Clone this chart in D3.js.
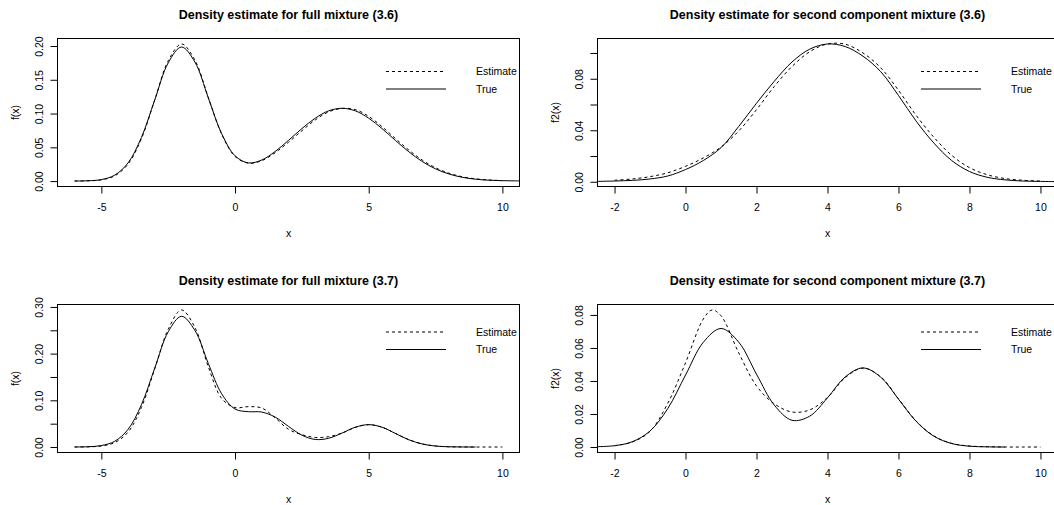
<!DOCTYPE html>
<html>
<head>
<meta charset="utf-8">
<script src="https://cdn.jsdelivr.net/npm/d3@7"></script>
<style>
	body { margin: 0; background: #fff; }
	svg { display: block; font-family: "Liberation Sans", Arial, sans-serif; }
</style>
</head>
<body>
<svg id="chart" width="1054" height="505"></svg>
<script>
//-- data --//

// full mixture (3.6)
const xTrueFull36 = [-6, -5.5, -5, -4.5, -4, -3.5, -3, -2.5, -2, -1.5, -1, -0.5, 0, 0.5, 1, 1.5, 2, 2.5, 3, 3.5, 4, 4.5, 5, 5.5, 6, 6.5, 7, 7.5, 8, 8.5, 9, 9.5, 10, 10.5, 11];
const trueFull36 = [0.0001, 0.0005, 0.0022, 0.0088, 0.0270, 0.0647, 0.1205, 0.1750, 0.1985, 0.1762, 0.1232, 0.0702, 0.0375, 0.0269, 0.0312, 0.0438, 0.0603, 0.0777, 0.0931, 0.1040, 0.1078, 0.1040, 0.0931, 0.0777, 0.0602, 0.0434, 0.0290, 0.0181, 0.0105, 0.0056, 0.0028, 0.0013, 0.0006, 0.0003, 0.0001];
const xEstFull36 = [-6, -5.5, -5, -4.5, -4, -3.5, -3, -2.5, -2, -1.5, -1, -0.5, 0, 0.5, 1, 1.5, 2, 2.5, 3, 3.5, 4, 4.5, 5, 5.5, 6, 6.5, 7, 7.5, 8, 8.5, 9, 9.5, 10];
const estFull36 = [0.0001, 0.0004, 0.0018, 0.0078, 0.0252, 0.0630, 0.1205, 0.1780, 0.2030, 0.1790, 0.1240, 0.0695, 0.0365, 0.0265, 0.0302, 0.0420, 0.0575, 0.0745, 0.0905, 0.1025, 0.1075, 0.1058, 0.0958, 0.0805, 0.0630, 0.0460, 0.0312, 0.0197, 0.0117, 0.0064, 0.0033, 0.0016, 0.0007];

// second component (3.6)
const xTrueComp36 = [-2.5, -2, -1.5, -1, -0.5, 0, 0.5, 1, 1.5, 2, 2.5, 3, 3.5, 4, 4.5, 5, 5.5, 6, 6.5, 7, 7.5, 8, 8.5, 9, 9.5, 10, 10.5];
const trueComp36 = [0.0003, 0.0006, 0.0011, 0.0022, 0.0045, 0.0095, 0.0165, 0.0265, 0.0430, 0.0610, 0.0780, 0.0930, 0.1030, 0.1070, 0.1050, 0.0975, 0.0855, 0.0670, 0.0470, 0.0300, 0.0165, 0.0080, 0.0035, 0.0015, 0.0006, 0.0003, 0.0001];
const xEstComp36 = [-2, -1.5, -1, -0.5, 0, 0.5, 1, 1.5, 2, 2.5, 3, 3.5, 4, 4.5, 5, 5.5, 6, 6.5, 7, 7.5, 8, 8.5, 9, 9.5, 10];
const estComp36 = [0.0012, 0.0022, 0.0040, 0.0070, 0.0120, 0.0185, 0.0270, 0.0395, 0.0560, 0.0740, 0.0895, 0.1010, 0.1070, 0.1068, 0.1000, 0.0885, 0.0710, 0.0515, 0.0345, 0.0205, 0.0110, 0.0055, 0.0025, 0.0012, 0.0006];

// full mixture (3.7)
const xTrueFull37 = [-6, -5.5, -5, -4.5, -4, -3.5, -3, -2.5, -2, -1.5, -1, -0.5, 0, 0.5, 1, 1.5, 2, 2.5, 3, 3.5, 4, 4.5, 5, 5.5, 6, 6.5, 7, 7.5, 8, 8.5, 9];
const trueFull37 = [0.0001, 0.0006, 0.0031, 0.0123, 0.0378, 0.0907, 0.1694, 0.2467, 0.2800, 0.2497, 0.1791, 0.1140, 0.0814, 0.0757, 0.0749, 0.0641, 0.0442, 0.0254, 0.0162, 0.0187, 0.0298, 0.0425, 0.0479, 0.0423, 0.0290, 0.0155, 0.0065, 0.0021, 0.0005, 0.0001, 0.0000];
const xEstFull37 = [-6, -5.5, -5, -4.5, -4, -3.5, -3, -2.5, -2, -1.5, -1, -0.5, 0, 0.5, 1, 1.5, 2, 2.5, 3, 3.5, 4, 4.5, 5, 5.5, 6, 6.5, 7, 7.5, 8, 8.5, 9, 9.5, 10];
const estFull37 = [0.0001, 0.0004, 0.0022, 0.0095, 0.0320, 0.0850, 0.1680, 0.2520, 0.2935, 0.2560, 0.1720, 0.1040, 0.0845, 0.0865, 0.0835, 0.0625, 0.0380, 0.0265, 0.0205, 0.0222, 0.0298, 0.0420, 0.0478, 0.0425, 0.0292, 0.0157, 0.0067, 0.0022, 0.0006, 0.0002, 0.0000, 0.0000, 0.0000];

// second component (3.7)
const xTrueComp37 = [-2.5, -2, -1.5, -1, -0.5, 0, 0.5, 1, 1.5, 2, 2.5, 3, 3.5, 4, 4.5, 5, 5.5, 6, 6.5, 7, 7.5, 8, 8.5, 9];
const trueComp37 = [0.0002, 0.0008, 0.0032, 0.0097, 0.0233, 0.0436, 0.0634, 0.0718, 0.0635, 0.0441, 0.0254, 0.0162, 0.0187, 0.0298, 0.0425, 0.0479, 0.0423, 0.0290, 0.0155, 0.0065, 0.0021, 0.0005, 0.0001, 0.0000];
const xEstComp37 = [-2, -1.5, -1, -0.5, 0, 0.5, 0.75, 1, 1.5, 2, 2.5, 3, 3.5, 4, 4.5, 5, 5.5, 6, 6.5, 7, 7.5, 8, 8.5, 9, 9.5, 10];
const estComp37 = [0.0008, 0.0030, 0.0095, 0.0265, 0.0510, 0.0775, 0.0830, 0.0795, 0.0570, 0.0370, 0.0262, 0.0212, 0.0225, 0.0300, 0.0420, 0.0478, 0.0425, 0.0292, 0.0157, 0.0067, 0.0022, 0.0006, 0.0002, 0.0000, 0.0000, 0.0000];

// ticks
const xTicksFull = [-5, 0, 5, 10];
const xTicksComp = [-2, 0, 2, 4, 6, 8, 10];
const yTicksFull36 = [0, 0.05, 0.10, 0.15, 0.20];
const yLabelsFull36 = ['0.00', '0.05', '0.10', '0.15', '0.20'];
const yTicksComp36 = [0, 0.02, 0.04, 0.06, 0.08, 0.10];
const yLabelsComp36 = ['0.00', '', '0.04', '', '0.08', ''];
const yTicksFull37 = [0, 0.05, 0.10, 0.15, 0.20, 0.25, 0.30];
const yLabelsFull37 = ['0.00', '', '0.10', '', '0.20', '', '0.30'];
const yTicksComp37 = [0, 0.02, 0.04, 0.06, 0.08];
const yLabelsComp37 = ['0.00', '0.02', '0.04', '0.06', '0.08'];

const titles = [
	'Density estimate for full mixture (3.6)',
	'Density estimate for second component mixture (3.6)',
	'Density estimate for full mixture (3.7)',
	'Density estimate for second component mixture (3.7)'
];
const yTitles = ['f(x)', 'f2(x)', 'f(x)', 'f2(x)'];
const legendLabels = ['Estimate', 'True'];

//-- layout --//

const panels = [
	{ box: [57.5, 38.5, 519.5, 186.5], legendY: [33, 50.5], xEst: xEstFull36, est: estFull36, xTrue: xTrueFull36, tru: trueFull36, xTicks: xTicksFull, yTicks: yTicksFull36, yLabels: yLabelsFull36 },
	{ box: [597.5, 38.5, 1057.5, 186.5], legendY: [33, 50.5], xEst: xEstComp36, est: estComp36, xTrue: xTrueComp36, tru: trueComp36, xTicks: xTicksComp, yTicks: yTicksComp36, yLabels: yLabelsComp36 },
	{ box: [57.5, 304.5, 519.5, 452.5], legendY: [27.5, 45], xEst: xEstFull37, est: estFull37, xTrue: xTrueFull37, tru: trueFull37, xTicks: xTicksFull, yTicks: yTicksFull37, yLabels: yLabelsFull37 },
	{ box: [597.5, 304.5, 1057.5, 452.5], legendY: [27.5, 45], xEst: xEstComp37, est: estComp37, xTrue: xTrueComp37, tru: trueComp37, xTicks: xTicksComp, yTicks: yTicksComp37, yLabels: yLabelsComp37 }
];

const svg = d3.select('#chart');

panels.forEach(drawPanel);

//-- functions --//

// R style range: data extent widened by 4% on each side
function padded(values) {
	const ext = d3.extent(values);
	const pad = (ext[1] - ext[0]) * 0.04;
	return [ext[0] - pad, ext[1] + pad];
}

function drawPanel(p, i) {
	const [left, top, right, bottom] = p.box;
	const g = svg.append('g');

	let x = d3.scaleLinear()
		.domain(padded(p.xEst))
		.range([left, right]);
	let y = d3.scaleLinear()
		.domain(padded(p.est))
		.range([bottom, top]);

	// clip the curves to the plot box
	g.append('clipPath')
		.attr('id', 'clip' + i)
		.append('rect')
		.attr('x', left)
		.attr('y', top)
		.attr('width', right - left)
		.attr('height', bottom - top);

	let line = d3.line()
		.x(d => x(d[0]))
		.y(d => y(d[1]))
		.curve(d3.curveCatmullRom.alpha(0.5));

	let curves = g.append('g').attr('clip-path', 'url(#clip' + i + ')');

	curves.append('path')
		.attr('d', line(d3.zip(p.xEst, p.est)))
		.attr('fill', 'none')
		.attr('stroke', '#000')
		.attr('stroke-width', 1)
		.attr('stroke-dasharray', '3,3');

	curves.append('path')
		.attr('d', line(d3.zip(p.xTrue, p.tru)))
		.attr('fill', 'none')
		.attr('stroke', '#000')
		.attr('stroke-width', 1);

	// x axis
	let xAxis = g.append('g')
		.attr('transform', 'translate(0,' + bottom + ')')
		.call(d3.axisBottom(x).tickValues(p.xTicks).tickSize(7).tickPadding(10).tickFormat(d3.format('d')));
	xAxis.select('.domain').remove();
	xAxis.selectAll('text')
		.attr('font-size', 10.5)
		.attr('font-family', '"Liberation Sans", Arial, sans-serif')
		.attr('fill', '#000')
		.text(d => d < 0 ? '-' + Math.abs(d) : d);

	// y axis, labels turned like R does
	let yAxis = g.append('g')
		.attr('transform', 'translate(' + left + ',0)')
		.call(d3.axisLeft(y).tickValues(p.yTicks).tickSize(7).tickFormat((d, k) => p.yLabels[k]));
	yAxis.select('.domain').remove();
	yAxis.selectAll('text')
		.attr('x', 0)
		.attr('dy', '0.35em')
		.attr('text-anchor', 'middle')
		.attr('transform', 'translate(-18.5,0) rotate(-90)')
		.attr('font-size', 10.5)
		.attr('font-family', '"Liberation Sans", Arial, sans-serif')
		.attr('fill', '#000');

	// box
	g.append('rect')
		.attr('x', left)
		.attr('y', top)
		.attr('width', right - left)
		.attr('height', bottom - top)
		.attr('fill', 'none')
		.attr('stroke', '#000')
		.attr('stroke-width', 1);

	// titles
	g.append('text')
		.attr('x', (left + right) / 2)
		.attr('y', top - 20)
		.attr('text-anchor', 'middle')
		.attr('font-size', 12.5)
		.attr('font-weight', 'bold')
		.text(titles[i]);

	g.append('text')
		.attr('x', (left + right) / 2)
		.attr('y', bottom + 47)
		.attr('dy', '0.35em')
		.attr('text-anchor', 'middle')
		.attr('font-size', 10.5)
		.text('x');

	g.append('text')
		.attr('transform', 'translate(' + (left - 42.5) + ',' + ((top + bottom) / 2) + ') rotate(-90)')
		.attr('dy', '0.35em')
		.attr('text-anchor', 'middle')
		.attr('font-size', 10.5)
		.text(yTitles[i]);

	// legend, no frame
	let legend = g.append('g');
	let lx = right < 1054 ? right : right - 3;
	legend.selectAll('line')
		.data(legendLabels)
		.join('line')
		.attr('x1', lx - 133.5)
		.attr('x2', lx - 73.5)
		.attr('y1', (d, k) => top + p.legendY[k])
		.attr('y2', (d, k) => top + p.legendY[k])
		.attr('stroke', '#000')
		.attr('stroke-width', 1)
		.attr('stroke-dasharray', (d, k) => k === 0 ? '3,3' : null);
	legend.selectAll('text')
		.data(legendLabels)
		.join('text')
		.attr('x', lx - 43.5)
		.attr('y', (d, k) => top + p.legendY[k])
		.attr('dy', '0.35em')
		.attr('font-size', 10.5)
		.text(d => d);
}
</script>
</body>
</html>
